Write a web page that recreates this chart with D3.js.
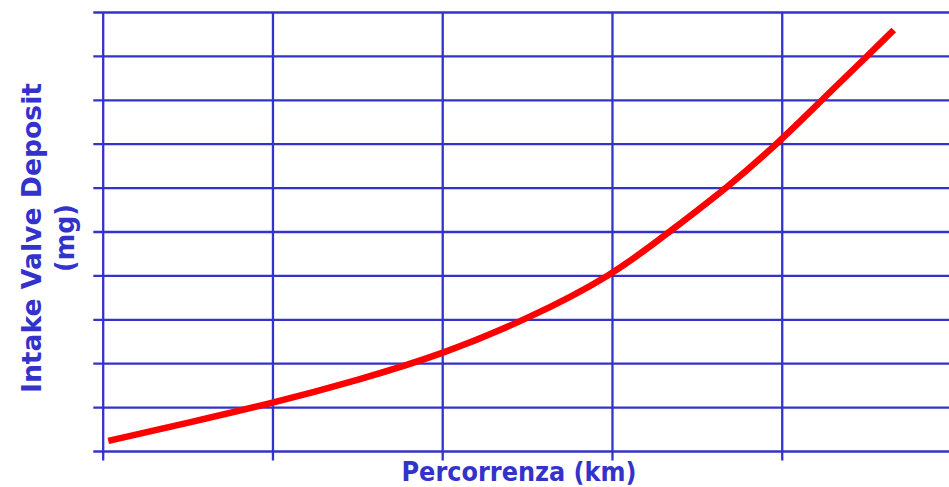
<!DOCTYPE html>
<html>
<head>
<meta charset="utf-8">
<script src="https://cdn.jsdelivr.net/npm/d3@7"></script>
<style>
html,body{margin:0;padding:0;background:#fff;overflow:hidden;}
svg{display:block;}
</style>
</head>
<body>
<svg id="chart" width="949" height="487"></svg>
<script>
// Data (grid units; the original chart shows no numeric tick labels)
const xValues = [0.033, 0.5, 1.0, 1.5, 2.0, 2.5, 3.0, 3.34, 3.68, 3.98, 4.24, 4.51, 4.66];
const yValues = [0.23, 0.64, 1.09, 1.61, 2.2, 3.0, 3.99, 5.0, 6.0, 7.02, 8.01, 9.02, 9.59];
const xTicks = [0, 1, 2, 3, 4, 5];
const yTicks = [0, 1, 2, 3, 4, 5, 6, 7, 8, 9, 10];
const xTitle = "Percorrenza (km)";
const yTitleLines = ["Intake Valve Deposit", "(mg)"];

const blue = "#3333cc";
const svg = d3.select("#chart");
const x = d3.scaleLinear().domain([0, 5]).range([102.7, 951.5]);
const y = d3.scaleLinear().domain([0, 10]).range([451, 12]);

// Horizontal grid + left ticks
const yAxis = d3.axisLeft(y).tickValues(yTicks).tickFormat("")
  .tickSizeInner(-(949 - 102.7)).tickSizeOuter(0);
const gy = svg.append("g").attr("transform", `translate(${x(0)},0)`).call(yAxis);
gy.select(".domain").remove();
gy.selectAll(".tick line").attr("x1", -9.4).attr("stroke", blue).attr("stroke-width", 2.3);

// Vertical grid + bottom ticks
const xAxis = d3.axisBottom(x).tickValues(xTicks).tickFormat("")
  .tickSizeInner(-(y(0) - y(10))).tickSizeOuter(0);
const gx = svg.append("g").attr("transform", `translate(0,${y(0)})`).call(xAxis);
gx.select(".domain").remove();
gx.selectAll(".tick line").attr("y1", 9.5).attr("stroke", blue).attr("stroke-width", 2.3);

// Curve
const pts = xValues.map((v, i) => [v, yValues[i]]);
const line = d3.line().x(d => x(d[0])).y(d => y(d[1])).curve(d3.curveBasis);
svg.append("path").datum(pts).attr("d", line)
  .attr("fill", "none").attr("stroke", "#ff0000").attr("stroke-width", 6.5)
  .attr("stroke-linecap", "butt").attr("stroke-linejoin", "round");

// Titles
const font = "'DejaVu Sans', Verdana, sans-serif";
svg.append("text").attr("x", 519).attr("y", 480.5)
  .attr("text-anchor", "middle").attr("font-family", font).attr("font-weight", "bold")
  .attr("font-size", 26).attr("fill", blue)
  .attr("textLength", 235).attr("lengthAdjust", "spacingAndGlyphs")
  .text(xTitle);

const yt = svg.append("g").attr("transform", "translate(0,238) rotate(-90)");
yt.append("text").attr("x", 0).attr("y", 41)
  .attr("text-anchor", "middle").attr("font-family", font).attr("font-weight", "bold")
  .attr("font-size", 27).attr("fill", blue)
  .attr("textLength", 310).attr("lengthAdjust", "spacingAndGlyphs")
  .text(yTitleLines[0]);
yt.append("text").attr("x", 0).attr("y", 73.5)
  .attr("text-anchor", "middle").attr("font-family", font).attr("font-weight", "bold")
  .attr("font-size", 27).attr("fill", blue)
  .attr("textLength", 68).attr("lengthAdjust", "spacingAndGlyphs")
  .text(yTitleLines[1]);
</script>
</body>
</html>
